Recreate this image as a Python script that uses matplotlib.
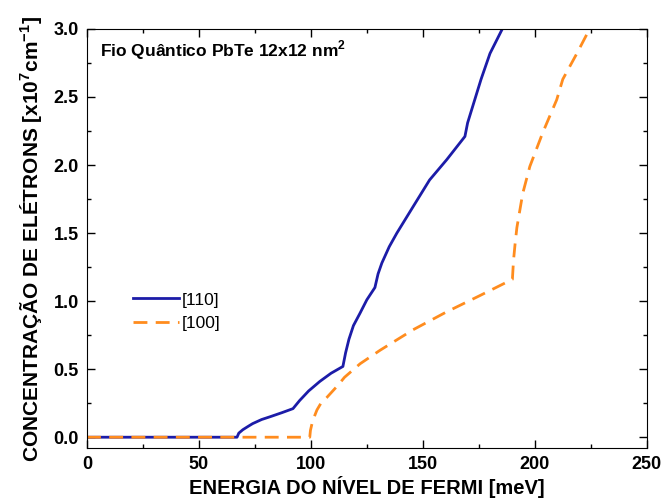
import matplotlib
matplotlib.use("Agg")
import matplotlib.pyplot as plt
from matplotlib.ticker import MultipleLocator

# [110] wire orientation
e_110 = [0, 67, 67.8, 69.6, 72, 74, 78, 81.7, 87, 92, 95, 99, 104, 109, 114.3,
         115.5, 117, 119, 121.9, 125, 128.6, 130, 131.7, 135, 138.4, 145.5,
         153, 160.7, 168.8, 170, 173, 176, 180, 185.5]
n_110 = [0, 0, 0.03, 0.055, 0.08, 0.10, 0.13, 0.15, 0.18, 0.21, 0.27, 0.34,
         0.41, 0.47, 0.52, 0.62, 0.72, 0.82, 0.91, 1.01, 1.10, 1.20, 1.28,
         1.40, 1.50, 1.69, 1.89, 2.04, 2.21, 2.31, 2.47, 2.63, 2.82, 3.0]

# [100] wire orientation
e_100 = [0, 99.5, 99.8, 100.5, 101.5, 102.7, 104.5, 107, 112, 115, 122, 131,
         145.7, 160.5, 175.4, 190, 190.5, 191.2, 192, 194.6, 197.8, 203.6,
         209.8, 212.5, 218.8, 224.5]
n_100 = [0, 0, 0.05, 0.10, 0.15, 0.20, 0.25, 0.29, 0.38, 0.44, 0.54, 0.64,
         0.79, 0.92, 1.04, 1.16, 1.30, 1.42, 1.54, 1.79, 1.99, 2.24,
         2.48, 2.63, 2.82, 3.0]

plt.rcParams['font.family'] = ['Liberation Sans', 'DejaVu Sans']
plt.rcParams['font.weight'] = 'bold'
plt.rcParams['mathtext.fontset'] = 'custom'
plt.rcParams['mathtext.bf'] = 'Liberation Sans:bold'
plt.rcParams['mathtext.rm'] = 'Liberation Sans:bold'

fig = plt.figure(figsize=(6.64, 4.99), dpi=100)
ax = fig.add_axes([0.131, 0.102, 0.843, 0.840])

ax.plot(e_110, n_110, color='#1c1ca8', lw=2, label='[110]')
ax.plot(e_100, n_100, color='#ff8c1e', lw=2, ls=(0, (5, 3)), label='[100]')

ax.set_xlim(0, 250)
ax.set_ylim(-0.08, 3.0)
ax.xaxis.set_major_locator(MultipleLocator(50))
ax.xaxis.set_minor_locator(MultipleLocator(25))
ax.yaxis.set_major_locator(MultipleLocator(0.5))
ax.yaxis.set_minor_locator(MultipleLocator(0.25))
ax.yaxis.set_major_formatter(plt.FormatStrFormatter('%.1f'))
ax.tick_params(which='both', direction='in', top=True, right=True, labelsize=13)
ax.tick_params(which='major', length=6, width=1, pad=6)
ax.tick_params(which='minor', length=3, width=1)
for lab in ax.get_xticklabels() + ax.get_yticklabels():
    lab.set_fontweight('bold')

ax.set_xlabel('ENERGIA DO NÍVEL DE FERMI [meV]', fontsize=14.5, fontweight='bold', labelpad=2)
ax.set_ylabel('CONCENTRAÇÃO DE ELÉTRONS [x10$^{\\mathrm{7}}$cm$^{\\mathrm{-1}}$]',
              fontsize=15, fontweight='bold', labelpad=6)

ax.text(0.023, 0.95, 'Fio Quântico PbTe 12x12 nm$^{\\mathrm{2}}$', transform=ax.transAxes,
        fontsize=12.5, fontweight='bold', va='center')

leg = ax.legend(loc='center left', bbox_to_anchor=(0.055, 0.325), frameon=False,
                fontsize=12.5, handlelength=2.6, handletextpad=0.2, labelspacing=0.5)
for t in leg.get_texts():
    t.set_fontweight('normal')

fig.savefig('out.png', dpi=100)
